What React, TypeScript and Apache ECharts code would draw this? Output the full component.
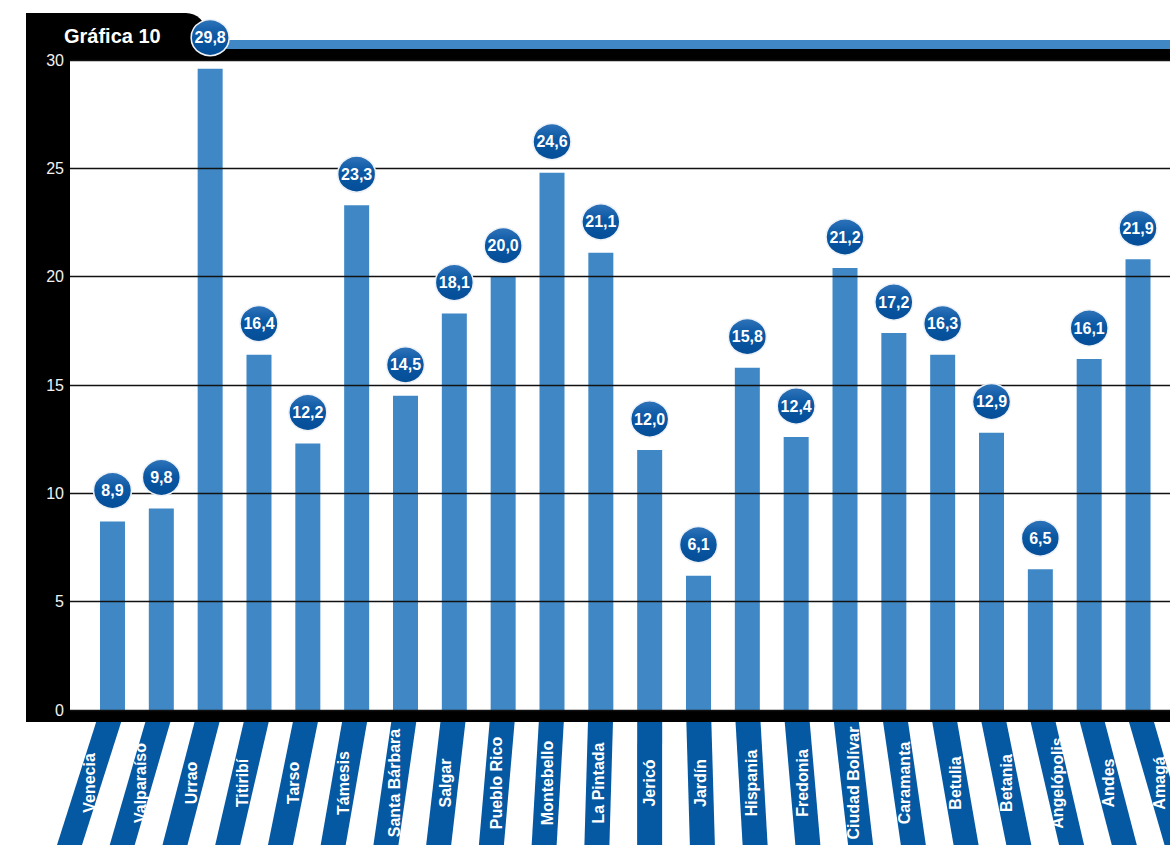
import React, { useEffect, useRef } from "react";
import * as echarts from "echarts";

const categories = [
  "Venecia", "Valparaíso", "Urrao", "Titiribí", "Tarso", "Támesis", "Santa Bárbara",
  "Salgar", "Pueblo Rico", "Montebello", "La Pintada", "Jericó", "Jardín", "Hispania",
  "Fredonia", "Ciudad Bolívar", "Caramanta", "Betulia", "Betania", "Angelópolis", "Andes", "Amagá",
];
// bar heights as drawn
const barValues = [8.7, 9.3, 29.6, 16.4, 12.3, 23.3, 14.5, 18.3, 20.0, 24.8, 21.1, 12.0, 6.2, 15.8, 12.6, 20.4, 17.4, 16.4, 12.8, 6.5, 16.2, 20.8];
// values printed in the bubbles
const labelValues = [8.9, 9.8, 29.8, 16.4, 12.2, 23.3, 14.5, 18.1, 20.0, 24.6, 21.1, 12.0, 6.1, 15.8, 12.4, 21.2, 17.2, 16.3, 12.9, 6.5, 16.1, 21.9];
const yMin = 0;
const yMax = 30;
const yInterval = 5;
const title = "Gráfica 10";

const FONT = "'Liberation Sans', Arial, sans-serif";
const BAR = "#3f88c5";
const STRIPE = "#0558a2";

export default function App() {
  const ref = useRef<HTMLDivElement>(null);
  useEffect(() => {
    if (!ref.current) return;
    const chart = echarts.init(ref.current, null, { renderer: "svg" });
    const vanishX = 650;
    const k = 0.08 / 135;
    const option: any = {
      animation: false,
      backgroundColor: "#ffffff",
      grid: { left: 70, top: 60, width: 1100, height: 650, containLabel: false },
      xAxis: {
        type: "value",
        min: -0.87,
        max: 21.655,
        show: false,
        splitLine: { show: false },
      },
      yAxis: {
        type: "value",
        min: yMin,
        max: yMax,
        interval: yInterval,
        z: 10,
        axisLine: { show: false },
        axisTick: { show: false },
        axisLabel: { color: "#f2f2f2", fontSize: 16, fontFamily: FONT, margin: 6 },
        splitLine: { lineStyle: { color: "#111", width: 1.3 } },
      },
      graphic: [
        { type: "rect", z: 1, shape: { x: 26, y: 13, width: 180, height: 47, r: [0, 20, 0, 0] }, style: { fill: "#000" } },
        { type: "rect", z: 1, shape: { x: 26, y: 13, width: 44, height: 709 }, style: { fill: "#000" } },
        { type: "rect", z: 1, shape: { x: 190, y: 49, width: 980, height: 11 }, style: { fill: "#000" } },
        { type: "rect", z: 1, shape: { x: 205, y: 40, width: 965, height: 9 }, style: { fill: BAR } },
        { type: "rect", z: 1, shape: { x: 26, y: 710, width: 1144, height: 12 }, style: { fill: "#000" } },
        {
          type: "text", z: 2, x: 64, y: 36,
          style: { text: title, fill: "#fff", font: `bold 20px ${FONT}`, verticalAlign: "middle", align: "left" },
        },
      ],
      series: [
        {
          type: "bar",
          data: barValues.map((v, i) => [i, v]),
          barWidth: 25,
          itemStyle: { color: BAR },
          z: 3,
        },
        {
          type: "scatter",
          data: barValues.map((v, i) => [i, v]),
          symbol: "circle",
          symbolSize: [38, 36],
          symbolOffset: [0, -31],
          clip: false,
          z: 20,
          itemStyle: {
            opacity: 1,
            color: {
              type: "linear", x: 0, y: 0, x2: 0, y2: 1,
              colorStops: [
                { offset: 0, color: "#2f74ba" },
                { offset: 0.45, color: "#0a57a3" },
                { offset: 1, color: "#054e98" },
              ],
            },
            borderColor: "#eef2f7",
            borderWidth: 1.5,
          },
          label: {
            show: true,
            position: "inside",
            color: "#fff",
            fontSize: 16,
            fontWeight: "bold",
            fontFamily: FONT,
            formatter: (p: any) => labelValues[p.dataIndex].toFixed(1).replace(".", ","),
          },
        },
        {
          type: "custom",
          coordinateSystem: "cartesian2d",
          clip: false,
          z: 4,
          data: categories.map((c, i) => [i, 0]),
          renderItem: (params: any, api: any) => {
            const i = api.value(0);
            const p = api.coord([i, 0]);
            const cx = p[0];
            const base = 710;
            const s = (y: number) => k * (cx - vanishX) * (y - base);
            const hw = 12.5;
            const yt = 722;
            const yb = 850;
            const ty = 783;
            return {
              type: "group",
              children: [
                {
                  type: "polygon",
                  shape: {
                    points: [
                      [cx - hw + s(yt), yt],
                      [cx + hw + s(yt), yt],
                      [cx + hw + s(yb), yb],
                      [cx - hw + s(yb), yb],
                    ],
                  },
                  style: { fill: STRIPE },
                },
                {
                  type: "text",
                  x: cx + s(ty),
                  y: ty,
                  rotation: Math.PI / 2,
                  style: {
                    text: categories[params.dataIndex],
                    fill: "#fff",
                    font: `bold 16px ${FONT}`,
                    align: "center",
                    verticalAlign: "middle",
                  },
                },
              ],
            };
          },
        },
      ],
    };
    chart.setOption(option);
    return () => chart.dispose();
  }, []);
  return (
    <div
      ref={ref}
      style={{ position: "fixed", left: 0, top: 0, width: 1170, height: 845 }}
    />
  );
}
